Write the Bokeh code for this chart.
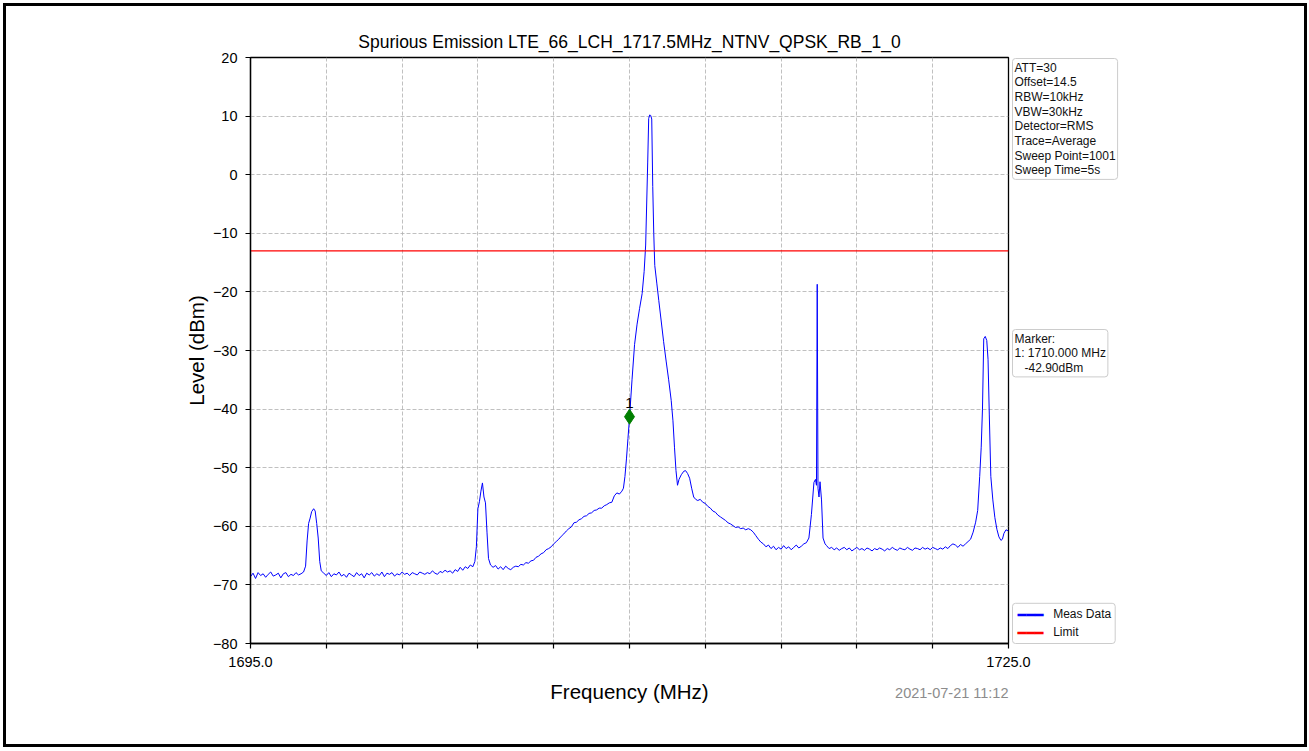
from bokeh.plotting import figure
from bokeh.models import FixedTicker, Label, Range1d
from bokeh.embed import file_html
from bokeh.resources import INLINE
from bokeh.core.properties import value

FONT = "Liberation Sans"

title_text = "Spurious Emission LTE_66_LCH_1717.5MHz_NTNV_QPSK_RB_1_0"
x_label = "Frequency (MHz)"
y_label = "Level (dBm)"
x_ticks = [1695, 1698, 1701, 1704, 1707, 1710, 1713, 1716, 1719, 1722, 1725]
x_tick_labels = {1695: "1695.0", 1725: "1725.0"}
y_ticks = [-80, -70, -60, -50, -40, -30, -20, -10, 0, 10, 20]

freq_mhz = [
    1695.0, 1695.1, 1695.2, 1695.3, 1695.4, 1695.5, 1695.6, 1695.7, 1695.8, 1695.9,
    1696.0, 1696.1, 1696.2, 1696.3, 1696.4, 1696.5, 1696.6, 1696.7, 1696.8, 1696.9,
    1697.0, 1697.1, 1697.18, 1697.24, 1697.30, 1697.36, 1697.42, 1697.50, 1697.56, 1697.62,
    1697.68, 1697.74, 1697.80, 1697.90, 1698.0, 1698.1, 1698.2, 1698.3, 1698.4, 1698.5,
    1698.6, 1698.7, 1698.8, 1698.9, 1699.0, 1699.1, 1699.2, 1699.3, 1699.4, 1699.5,
    1699.6, 1699.7, 1699.8, 1699.9, 1700.0, 1700.1, 1700.2, 1700.3, 1700.4, 1700.5,
    1700.6, 1700.7, 1700.8, 1700.9, 1701.0, 1701.1, 1701.2, 1701.3, 1701.4, 1701.5,
    1701.6, 1701.7, 1701.8, 1701.9, 1702.0, 1702.1, 1702.2, 1702.3, 1702.4, 1702.5,
    1702.6, 1702.7, 1702.8, 1702.9, 1703.0, 1703.1, 1703.2, 1703.3, 1703.4, 1703.5,
    1703.6, 1703.7, 1703.8, 1703.88, 1703.94, 1704.00, 1704.06, 1704.12, 1704.18, 1704.24,
    1704.30, 1704.36, 1704.42, 1704.50, 1704.6, 1704.7, 1704.8, 1704.9, 1705.0, 1705.1,
    1705.2, 1705.3, 1705.4, 1705.5, 1705.6, 1705.7, 1705.8, 1705.9, 1706.0, 1706.1,
    1706.2, 1706.3, 1706.4, 1706.5, 1706.6, 1706.7, 1706.8, 1706.9, 1707.0, 1707.1,
    1707.2, 1707.3, 1707.4, 1707.5, 1707.6, 1707.7, 1707.8, 1707.9, 1708.0, 1708.1,
    1708.2, 1708.3, 1708.4, 1708.5, 1708.6, 1708.7, 1708.8, 1708.9, 1709.0, 1709.1,
    1709.2, 1709.3, 1709.4, 1709.5, 1709.6, 1709.7, 1709.76, 1709.82, 1709.88, 1709.94,
    1710.00, 1710.10, 1710.20, 1710.30, 1710.40, 1710.50, 1710.58, 1710.64, 1710.68, 1710.72,
    1710.76, 1710.80, 1710.84, 1710.88, 1710.92, 1710.96, 1711.00, 1711.08, 1711.16, 1711.25,
    1711.35, 1711.45, 1711.55, 1711.65, 1711.72, 1711.78, 1711.84, 1711.90, 1711.96, 1712.05,
    1712.15, 1712.22, 1712.30, 1712.38, 1712.46, 1712.54, 1712.62, 1712.7, 1712.8, 1712.9,
    1713.0, 1713.1, 1713.2, 1713.3, 1713.4, 1713.5, 1713.6, 1713.7, 1713.8, 1713.9,
    1714.0, 1714.1, 1714.2, 1714.3, 1714.4, 1714.5, 1714.6, 1714.7, 1714.8, 1714.9,
    1715.0, 1715.1, 1715.2, 1715.3, 1715.4, 1715.5, 1715.6, 1715.7, 1715.8, 1715.9,
    1716.0, 1716.1, 1716.2, 1716.3, 1716.4, 1716.5, 1716.6, 1716.7, 1716.8, 1716.9,
    1717.0, 1717.10, 1717.20, 1717.30, 1717.36, 1717.40, 1717.43, 1717.46, 1717.50, 1717.54,
    1717.60, 1717.66, 1717.74, 1717.8, 1717.9, 1718.0, 1718.1, 1718.2, 1718.3, 1718.4,
    1718.5, 1718.6, 1718.7, 1718.8, 1718.9, 1719.0, 1719.1, 1719.2, 1719.3, 1719.4,
    1719.5, 1719.6, 1719.7, 1719.8, 1719.9, 1720.0, 1720.1, 1720.2, 1720.3, 1720.4,
    1720.5, 1720.6, 1720.7, 1720.8, 1720.9, 1721.0, 1721.1, 1721.2, 1721.3, 1721.4,
    1721.5, 1721.6, 1721.7, 1721.8, 1721.9, 1722.0, 1722.1, 1722.2, 1722.3, 1722.4,
    1722.5, 1722.6, 1722.7, 1722.8, 1722.9, 1723.0, 1723.1, 1723.2, 1723.3, 1723.4,
    1723.5, 1723.6, 1723.7, 1723.78, 1723.86, 1723.92, 1723.97, 1724.02, 1724.08, 1724.14,
    1724.19, 1724.24, 1724.30, 1724.38, 1724.46, 1724.54, 1724.62, 1724.70, 1724.76, 1724.82,
    1724.90, 1725.0,
]

level_dbm = [
    -68.6, -68.0, -68.9, -67.9, -68.4, -68.1, -68.7, -68.2, -67.8, -68.5,
    -68.3, -68.0, -68.8, -68.1, -67.9, -68.6, -68.2, -68.4, -67.9, -68.3,
    -68.1, -67.8, -66.8, -62.5, -59.5, -58.6, -57.5, -57.0, -57.4, -59.5,
    -62.0, -66.0, -67.6, -68.0, -68.4, -67.9, -68.6, -68.1, -68.3, -67.8,
    -68.5, -68.2, -68.7, -68.0, -68.3, -68.6, -67.9, -68.4, -68.1, -68.8,
    -68.0, -68.3, -67.9, -68.5, -68.1, -68.4, -67.8, -68.6, -68.0, -68.2,
    -67.9, -68.5, -68.1, -68.3, -67.8, -68.2, -68.0, -68.4, -67.9, -68.1,
    -68.3, -67.8, -68.0, -68.2, -67.9, -68.1, -67.6, -68.0, -68.2, -67.7,
    -67.9, -67.5, -67.8, -67.6, -68.0, -67.4, -67.7, -67.0, -67.5, -66.9,
    -67.2, -66.6, -66.9, -66.0, -63.5, -57.0, -55.8, -54.0, -52.6, -55.0,
    -56.0, -61.0, -65.5, -66.6, -67.0, -66.7, -67.3, -66.9, -67.4, -66.8,
    -67.2, -67.4, -67.0, -66.8, -66.9, -66.5, -66.6, -66.2, -66.3, -65.9,
    -65.8, -65.3, -65.1, -64.7, -64.5, -64.0, -63.8, -63.5, -63.0, -62.6,
    -62.2, -61.7, -61.3, -60.8, -60.4, -60.1, -59.4, -59.3, -58.9, -58.7,
    -58.3, -58.2, -57.8, -57.7, -57.3, -57.2, -56.9, -56.9, -56.5, -56.3,
    -56.0, -55.9, -54.8, -54.3, -54.5, -54.0, -53.5, -51.5, -48.5, -45.0,
    -41.5, -35.0, -29.0, -25.5, -22.8, -20.3, -16.5, -12.0, -5.0, 2.0,
    9.6, 10.2, 10.1, 9.5, -2.0, -10.0, -15.5, -18.5, -21.5, -24.8,
    -28.5, -31.8, -35.0, -38.5, -42.0, -46.5, -50.5, -53.0, -52.0, -51.2,
    -50.6, -50.5, -51.0, -51.8, -53.5, -55.0, -55.4, -55.6, -55.4, -55.9,
    -56.1, -56.6, -56.9, -57.4, -57.6, -58.1, -58.4, -58.7, -59.0, -59.4,
    -59.6, -59.9, -60.2, -60.1, -60.4, -60.3, -60.6, -60.4, -60.6, -61.0,
    -61.6, -62.2, -62.7, -63.0, -63.5, -63.2, -63.8, -63.4, -64.0, -63.6,
    -63.9, -63.3, -63.8, -63.5, -64.0, -63.6, -63.2, -63.7, -63.4, -63.0,
    -62.8, -62.0, -58.0, -52.5, -52.0, -53.0, -18.7, -53.5, -55.0, -52.4,
    -55.5, -62.0, -63.0, -63.3, -63.8, -63.6, -64.0, -63.7, -64.1, -63.8,
    -63.6, -64.0, -63.7, -64.2, -63.9, -63.6, -64.0, -63.8, -64.1, -63.7,
    -63.9, -64.2, -63.8, -64.0, -63.7, -63.9, -64.2, -63.8, -64.0, -63.6,
    -63.9, -64.1, -63.7, -63.9, -64.0, -63.6, -63.9, -64.1, -63.7, -63.8,
    -64.0, -63.6, -63.9, -63.7, -64.0, -63.6, -63.8, -64.0, -63.7, -63.9,
    -63.5, -63.8, -63.3, -63.0, -63.2, -63.6, -63.1, -63.4, -63.0, -62.6,
    -62.2, -61.0, -59.3, -57.3, -51.5, -46.5, -40.0, -28.0, -27.6, -28.3,
    -31.5, -41.0, -51.5, -55.5, -58.5, -60.5, -61.8, -62.4, -62.2, -61.2,
    -60.6, -60.8,
]

limit_freq = [1695.0, 1725.0]
limit_level = [-13.0, -13.0]

marker_freq = [1710.0]
marker_level = [-41.3]
marker_names = ["1"]

settings_lines = ["ATT=30", "Offset=14.5", "RBW=10kHz", "VBW=30kHz",
                  "Detector=RMS", "Trace=Average", "Sweep Point=1001", "Sweep Time=5s"]
marker_lines = ["Marker:", "1: 1710.000 MHz", "\u00a0\u00a0\u00a0-42.90dBm"]
timestamp = "2021-07-21 11:12"
legend_labels = ["Meas Data", "Limit"]
legend_colors = ["#0000ff", "#ff0000"]

p = figure(
    width=1304, height=744,
    x_range=Range1d(x_ticks[0], x_ticks[-1]),
    y_range=Range1d(y_ticks[0], y_ticks[-1]),
    output_backend="svg", toolbar_location=None,
    min_border_left=244, min_border_right=302,
    min_border_top=51, min_border_bottom=107,
    background_fill_color="white", border_fill_color="white",
    title=title_text,
    styles={"border": "3px solid black", "margin": "3px"},
)

p.title.align = "center"
p.title.text_font = FONT
p.title.text_font_size = "17.5px"
p.title.text_font_style = "normal"
p.title.text_color = "black"
p.title.standoff = 12

p.outline_line_color = "black"
p.outline_line_width = 1.3

for ax in (p.xaxis[0], p.yaxis[0]):
    ax.axis_line_color = "black"
    ax.axis_line_width = 1.3
    ax.major_tick_line_color = "black"
    ax.major_tick_line_width = 1.2
    ax.major_tick_out = 5
    ax.major_tick_in = 0
    ax.minor_tick_line_color = None
    ax.major_label_text_font = FONT
    ax.major_label_text_font_size = "14.5px"
    ax.major_label_text_color = "black"
    ax.axis_label_text_font = FONT
    ax.axis_label_text_font_size = "20.5px"
    ax.axis_label_text_font_style = "normal"
    ax.axis_label_text_color = "black"

p.xaxis.ticker = FixedTicker(ticks=x_ticks, minor_ticks=[])
p.yaxis.ticker = FixedTicker(ticks=y_ticks, minor_ticks=[])
xo = {t: "" for t in x_ticks}
xo.update(x_tick_labels)
p.xaxis.major_label_overrides = xo
p.yaxis.major_label_overrides = {t: (str(t).replace("-", "\u2212")) for t in y_ticks}
p.xaxis.axis_label = x_label
p.yaxis.axis_label = y_label
p.xaxis.major_label_standoff = 8
p.yaxis.major_label_standoff = 8
p.xaxis.axis_label_standoff = 10
p.yaxis.axis_label_standoff = 2

for g in (p.xgrid[0], p.ygrid[0]):
    g.grid_line_color = "#b0b0b0"
    g.grid_line_dash = "4 2"
    g.grid_line_width = 0.8

p.line(freq_mhz, level_dbm, line_color=legend_colors[0], line_width=1)
p.line(limit_freq, limit_level, line_color=legend_colors[1], line_width=1.2)

p.scatter(marker_freq, marker_level, marker="diamond", size=15,
          fill_color="#007f00", line_color="#007f00")
p.text(marker_freq, marker_level, text=marker_names, y_offset=-14,
       text_align="center", text_baseline="middle",
       text_font=value(FONT), text_font_size="15px", text_color="black")

box_style = dict(
    text_align="left", text_font=FONT, text_font_size="12px",
    text_color="#111111", border_line_color="#cccccc", border_line_width=1,
    border_radius=3,
)

# settings box (right of the frame, top)
info = Label(x=x_ticks[-1], y=y_ticks[-1], x_offset=4, y_offset=-1,
             text="\n".join(settings_lines), text_baseline="top",
             text_line_height=1.05, padding=2, background_fill_color="white",
             **box_style)
p.add_layout(info, "right")

# marker readout box
mk = Label(x=x_ticks[-1], y=-30, x_offset=4, y_offset=21,
           text="\n".join(marker_lines), text_baseline="top",
           text_line_height=1.05, padding=2, background_fill_color="white",
           **box_style)
p.add_layout(mk, "left")

# legend box (bottom right of the frame)
pad = "\u00a0" * 11
leg_box = Label(x=x_ticks[-1], y=y_ticks[0], x_offset=4, y_offset=0,
                text="\n".join(pad + s for s in legend_labels),
                text_baseline="bottom", text_line_height=1.3, padding=4,
                background_fill_color=None, **box_style)
p.add_layout(leg_box, "right")

for i, (lab, col) in enumerate(zip(legend_labels, legend_colors)):
    sample = Label(x=x_ticks[-1], y=y_ticks[0], x_offset=9,
                   y_offset=29 - 18 * i,
                   text="\u2501\u2501\u2501", text_align="left",
                   text_baseline="middle", text_color=col,
                   text_font="DejaVu Sans Mono", text_font_size="14.4px")
    p.add_layout(sample, "left")

ts = Label(
    x=x_ticks[-1], y=y_ticks[0], y_offset=-49,
    text=timestamp, text_align="right", text_baseline="middle",
    text_font=FONT, text_font_size="14.5px", text_color="#8c8c8c",
)
p.add_layout(ts, "below")

open("out.html", "w").write(file_html(p, INLINE))
